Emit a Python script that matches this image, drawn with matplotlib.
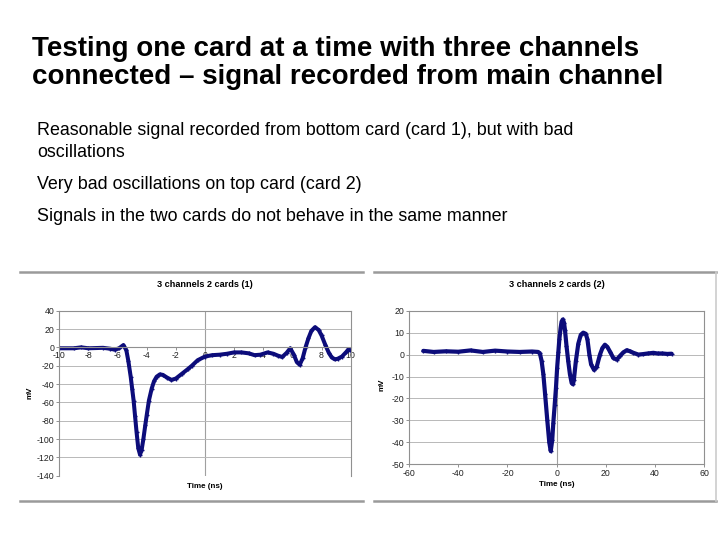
import numpy as np
import matplotlib
matplotlib.use('Agg')
import matplotlib.pyplot as plt
from matplotlib.lines import Line2D

plt.rcParams['font.family'] = ['Liberation Sans', 'DejaVu Sans']
plt.rcParams['axes.unicode_minus'] = False

title_lines = ['Testing one card at a time with three channels',
               'connected \u2013 signal recorded from main channel']
bullets = ['Reasonable signal recorded from bottom card (card 1), but with bad',
           'oscillations',
           'Very bad oscillations on top card (card 2)',
           'Signals in the two cards do not behave in the same manner']

# card 1 (bottom card), time in ns, signal in mV
card1_t = [-10, -9, -8.5, -8, -7, -6.5, -6.2, -5.9, -5.6, -5.4, -5.26, -5.1, -5.0,
           -4.9, -4.8, -4.7, -4.58, -4.46, -4.35, -4.23, -4.1, -4.0, -3.85, -3.66,
           -3.5, -3.32, -3.1, -2.9, -2.6, -2.3, -2.0, -1.6, -1.2, -0.9, -0.5, 0,
           0.5, 1.0, 1.5, 2.0, 2.5, 3.0, 3.4, 3.8, 4.3, 4.7, 5.0, 5.3, 5.6, 5.85,
           6.1, 6.3, 6.5, 6.7, 6.9, 7.1, 7.3, 7.55, 7.8, 8.0, 8.25, 8.5, 8.7, 8.9,
           9.1, 9.4, 9.7, 9.85, 10]
card1_mv = [-1, -1, 0, -1, -0.5, -1.5, -2.5, -1, 2.5, -3, -15, -32, -45,
            -58, -75, -92, -110, -117, -112, -100, -85, -74, -58, -45,
            -37, -32, -29.5, -30, -33, -35.5, -34, -29, -24, -20, -14, -10,
            -8.5, -8, -7, -5.5, -5.5, -6.5, -8.5, -8, -5.5, -7, -9, -10.5, -6, -1,
            -8, -16, -19, -12, 0, 10, 18, 22, 19, 13, 3, -6, -11, -13,
            -12.5, -10, -5, -2, -3.5]

# card 2 (top card)
card2_t = [-54.2, -50, -45, -40, -35, -30, -25, -20, -15, -10, -7.5, -6.8, -6.1,
           -5.4, -4.7, -3.8, -3.0, -2.4, -1.8, -1.35, -0.8, -0.27, 0.2, 0.68, 1.1,
           1.6, 2.0, 2.5, 3.0, 3.4, 4.0, 4.7, 5.4, 6.1, 6.6, 7.0, 7.8, 8.8, 9.8,
           10.8, 11.8, 12.5, 13.3, 14, 15.2, 16.3, 17.6, 18.6, 19.6, 20.6, 21.7,
           23, 24.4, 25.8, 27.1, 28.5, 29.8, 31.2, 33.2, 35, 37, 39.3, 41, 43, 45,
           46.7]
card2_mv = [1.7, 1.2, 1.5, 1.3, 1.9, 1.2, 1.8, 1.4, 1.2, 1.4, 1.2, 0.5, -3,
            -9, -18, -30, -40, -44, -39, -31, -23, -15, -6, 1, 7,
            12, 15, 16, 14.5, 11, 4, -3, -9, -13, -13.5, -11.5, -3, 5, 9,
            10, 9.5, 7, 0, -4.5, -7, -5.5, 0, 3, 4.5, 3.5, 1.3,
            -1.5, -2.3, -0.5, 1, 2, 1.5, 0.8, 0, 0.2, 0.5, 0.8, 0.5, 0.5, 0.3,
            0.4]

W, H = 720, 540
fig = plt.figure(figsize=(7.2, 5.4), dpi=100)

def fx(px):
    return px / W

def fy(py):
    return 1 - py / H

# slide text
fig.text(fx(32), fy(56), title_lines[0], fontsize=20, fontweight='bold')
fig.text(fx(32), fy(84), title_lines[1], fontsize=20, fontweight='bold')
fig.text(fx(37), fy(135), bullets[0], fontsize=12.9)
fig.text(fx(37), fy(157), bullets[1], fontsize=12.9)
fig.text(fx(37), fy(189), bullets[2], fontsize=12.9)
fig.text(fx(37), fy(221), bullets[3], fontsize=12.9)

# panel frames
frame = '#9a9a9a'
for x0, x1 in [(20, 363), (374, 716)]:
    for yy in [272, 501]:
        fig.add_artist(Line2D([fx(x0), fx(x1)], [fy(yy), fy(yy)], color=frame, lw=1.8))
fig.add_artist(Line2D([fx(716), fx(716)], [fy(272), fy(501)], color='#cccccc', lw=1.2))

line_col = '#0c0c7a'
grid_col = '#b8b8b8'
tick_fs = 6.3


def style_axes(ax):
    for s in ax.spines.values():
        s.set_color('#909090')
        s.set_linewidth(0.8)
    ax.tick_params(labelsize=tick_fs, length=2, width=0.6, color='#808080', pad=1.5,
                   labelcolor='#222222')
    ax.grid(axis='y', color=grid_col, lw=0.7)
    ax.set_axisbelow(True)


# left chart
ax1 = fig.add_axes([fx(59.3), fy(475.7), fx(350.7 - 59.3), (475.7 - 310.7) / H])
ax1.plot(card1_t, card1_mv, color=line_col, lw=2.9, marker='+', ms=3.5, mew=1,
         solid_capstyle='round')
ax1.set_xlim(-10, 10)
ax1.set_ylim(-140, 40)
ax1.set_yticks(np.arange(-140, 41, 20))
ax1.set_xticks(np.arange(-10, 11, 2))
style_axes(ax1)
ax1.spines['bottom'].set_position(('data', 0))
ax1.axvline(0, color='#a0a0a0', lw=0.8, zorder=0)
ax1.tick_params(axis='x', pad=0.5)
ax1.set_title('3 channels 2 cards (1)', fontsize=6.6, fontweight='bold', pad=17)
ax1.set_ylabel('mV', fontsize=5.8, fontweight='bold')
ax1.yaxis.set_label_coords(-0.09, 0.5)
ax1.text(0.5, -0.045, 'Time (ns)', transform=ax1.transAxes, ha='center', va='top',
         fontsize=5.8, fontweight='bold')

# right chart
ax2 = fig.add_axes([fx(409), fy(464.3), fx(704.3 - 409), (464.3 - 310.7) / H])
ax2.plot(card2_t, card2_mv, color=line_col, lw=3.0, marker='+', ms=3.5, mew=1,
         solid_capstyle='round')
ax2.set_xlim(-60, 60)
ax2.set_ylim(-50, 20)
ax2.set_yticks(np.arange(-50, 21, 10))
ax2.set_xticks(np.arange(-60, 61, 20))
style_axes(ax2)
ax2.axvline(0, color='#a0a0a0', lw=0.8, zorder=0)
ax2.set_title('3 channels 2 cards (2)', fontsize=6.6, fontweight='bold', pad=17)
ax2.set_ylabel('mV', fontsize=5.8, fontweight='bold')
ax2.yaxis.set_label_coords(-0.08, 0.516)
ax2.set_xlabel('Time (ns)', fontsize=5.8, fontweight='bold', labelpad=2)

fig.savefig('out.png', dpi=100, facecolor='white')
